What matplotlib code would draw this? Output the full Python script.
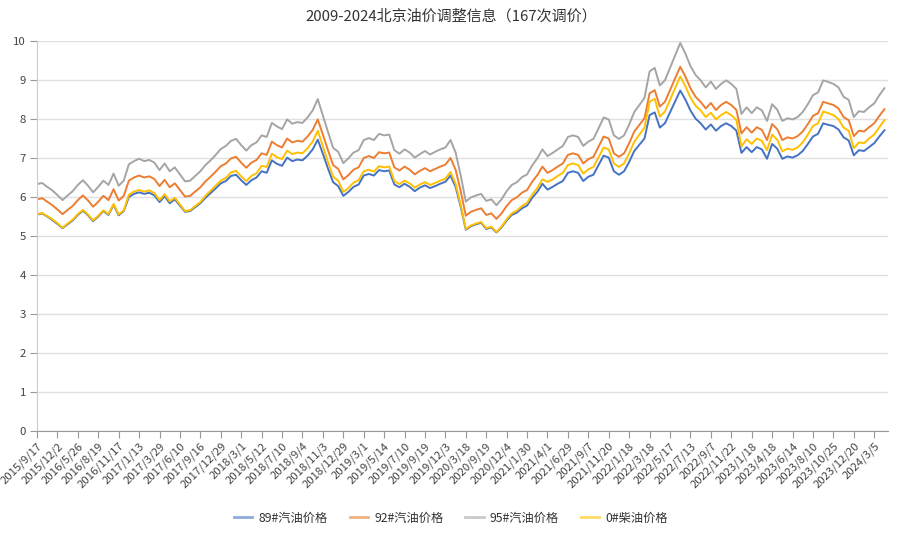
import numpy as np
import matplotlib
matplotlib.use('Agg')
import matplotlib.pyplot as plt
from matplotlib.lines import Line2D

plt.rcParams['font.family'] = ['Noto Sans CJK SC', 'DejaVu Sans']

# Подписи оси X (каждая 4-я дата из 167)
tick_labels = ['2015/9/17', '2015/12/2', '2016/5/26', '2016/8/19', '2016/11/17', '2017/1/13',
               '2017/3/29', '2017/6/10', '2017/9/16', '2017/12/29', '2018/3/1', '2018/5/12',
               '2018/7/10', '2018/9/4', '2018/11/3', '2018/12/29', '2019/3/1', '2019/5/14',
               '2019/7/10', '2019/9/19', '2019/12/3', '2020/3/18', '2020/9/19', '2020/12/4',
               '2021/1/30', '2021/4/1', '2021/6/29', '2021/9/7', '2021/11/20', '2022/1/18',
               '2022/3/18', '2022/5/17', '2022/7/13', '2022/9/7', '2022/11/22', '2023/1/18',
               '2023/4/18', '2023/6/14', '2023/8/10', '2023/10/25', '2023/12/20', '2024/3/5']

# 89# бензин
p89 = [5.55, 5.58, 5.50, 5.41, 5.31, 5.20, 5.30, 5.40, 5.54, 5.65,
       5.53, 5.38, 5.50, 5.64, 5.54, 5.80, 5.53, 5.64, 6.00, 6.08,
       6.12, 6.08, 6.11, 6.04, 5.87, 6.02, 5.84, 5.94, 5.78, 5.62,
       5.64, 5.74, 5.84, 5.98, 6.10, 6.22, 6.35, 6.41, 6.54, 6.57,
       6.43, 6.31, 6.43, 6.50, 6.66, 6.62, 6.94, 6.85, 6.80, 7.01,
       6.92, 6.96, 6.94, 7.06, 7.22, 7.47, 7.11, 6.73, 6.38, 6.28,
       6.03, 6.13, 6.26, 6.32, 6.55, 6.59, 6.55, 6.69, 6.66, 6.68,
       6.32, 6.25, 6.34, 6.26, 6.15, 6.24, 6.30, 6.23, 6.28, 6.34,
       6.39, 6.55, 6.26, 5.75, 5.16, 5.25, 5.30, 5.34, 5.18, 5.22,
       5.09, 5.22, 5.40, 5.54, 5.60, 5.71, 5.78, 5.98, 6.13, 6.34,
       6.19, 6.26, 6.34, 6.41, 6.62, 6.66, 6.62, 6.41, 6.52, 6.57,
       6.82, 7.06, 7.01, 6.66, 6.57, 6.66, 6.90, 7.18, 7.34, 7.50,
       8.10, 8.17, 7.78, 7.89, 8.17, 8.45, 8.73, 8.50, 8.22, 8.01,
       7.89, 7.73, 7.86, 7.70, 7.82, 7.89, 7.82, 7.70, 7.13, 7.28,
       7.15, 7.28, 7.22, 6.98, 7.36, 7.24, 6.98, 7.04, 7.01, 7.07,
       7.18, 7.36, 7.55, 7.62, 7.89, 7.85, 7.82, 7.73, 7.53, 7.45,
       7.07, 7.20, 7.18, 7.28, 7.38, 7.55, 7.71]

# 92# бензин
p92 = [5.94, 5.97, 5.88, 5.79, 5.68, 5.56, 5.67, 5.77, 5.92, 6.04,
       5.91, 5.75, 5.88, 6.03, 5.92, 6.20, 5.91, 6.03, 6.42, 6.50,
       6.55, 6.50, 6.53, 6.46, 6.28, 6.44, 6.25, 6.35, 6.18, 6.01,
       6.03, 6.14, 6.25, 6.40, 6.52, 6.65, 6.79, 6.86, 6.99, 7.03,
       6.88, 6.75, 6.88, 6.95, 7.12, 7.08, 7.42, 7.33, 7.27, 7.50,
       7.40, 7.44, 7.42, 7.55, 7.72, 7.99, 7.60, 7.20, 6.82, 6.72,
       6.45, 6.56, 6.70, 6.76, 7.00, 7.05, 7.00, 7.15, 7.12, 7.14,
       6.76, 6.68, 6.78, 6.70, 6.58, 6.67, 6.74, 6.66, 6.72, 6.78,
       6.83, 7.00, 6.70, 6.15, 5.52, 5.62, 5.67, 5.71, 5.54, 5.58,
       5.44, 5.58, 5.77, 5.92, 5.99, 6.11, 6.18, 6.39, 6.56, 6.78,
       6.62, 6.69, 6.78, 6.86, 7.08, 7.12, 7.08, 6.86, 6.97, 7.03,
       7.29, 7.55, 7.50, 7.12, 7.03, 7.12, 7.38, 7.68, 7.85, 8.02,
       8.66, 8.74, 8.32, 8.44, 8.74, 9.04, 9.34, 9.09, 8.79, 8.57,
       8.44, 8.27, 8.41, 8.23, 8.36, 8.44, 8.36, 8.23, 7.63, 7.79,
       7.65, 7.79, 7.72, 7.46, 7.87, 7.74, 7.46, 7.53, 7.50, 7.56,
       7.68, 7.87, 8.08, 8.15, 8.44, 8.40, 8.36, 8.27, 8.05, 7.97,
       7.56, 7.70, 7.68, 7.79, 7.89, 8.08, 8.25]

# 95# бензин
p95 = [6.33, 6.36, 6.26, 6.17, 6.05, 5.92, 6.04, 6.15, 6.31, 6.43,
       6.29, 6.12, 6.26, 6.42, 6.31, 6.60, 6.29, 6.42, 6.84, 6.92,
       6.98, 6.92, 6.95, 6.88, 6.69, 6.86, 6.66, 6.76, 6.58, 6.40,
       6.42, 6.54, 6.66, 6.82, 6.94, 7.08, 7.23, 7.31, 7.44, 7.49,
       7.33, 7.19, 7.33, 7.40, 7.58, 7.54, 7.90, 7.81, 7.74, 7.99,
       7.88, 7.92, 7.90, 8.04, 8.22, 8.51, 8.09, 7.67, 7.26, 7.16,
       6.87, 6.99, 7.14, 7.20, 7.46, 7.51, 7.46, 7.62, 7.58, 7.60,
       7.20, 7.11, 7.22, 7.14, 7.01, 7.10, 7.18, 7.09, 7.16, 7.22,
       7.27, 7.46, 7.14, 6.55, 5.88, 5.99, 6.04, 6.08, 5.90, 5.94,
       5.79, 5.94, 6.15, 6.31, 6.38, 6.51, 6.58, 6.81, 6.99, 7.22,
       7.05, 7.13, 7.22, 7.31, 7.54, 7.58, 7.54, 7.31, 7.42, 7.49,
       7.76, 8.04, 7.99, 7.58, 7.49, 7.58, 7.86, 8.18, 8.36, 8.54,
       9.22, 9.31, 8.86, 8.99, 9.31, 9.63, 9.95, 9.68, 9.36, 9.13,
       8.99, 8.81, 8.96, 8.77, 8.90, 8.99, 8.90, 8.77, 8.13, 8.30,
       8.15, 8.30, 8.22, 7.95, 8.38, 8.24, 7.95, 8.02, 7.99, 8.05,
       8.18, 8.38, 8.61, 8.68, 8.99, 8.95, 8.90, 8.81, 8.57, 8.49,
       8.05, 8.20, 8.18, 8.30, 8.40, 8.61, 8.79]

# 0# дизель
p0 = [5.56, 5.59, 5.51, 5.43, 5.33, 5.21, 5.32, 5.42, 5.56, 5.67,
      5.55, 5.40, 5.52, 5.66, 5.56, 5.82, 5.55, 5.66, 6.06, 6.14,
      6.18, 6.14, 6.17, 6.10, 5.92, 6.07, 5.89, 5.98, 5.81, 5.64,
      5.66, 5.77, 5.87, 6.03, 6.16, 6.29, 6.42, 6.49, 6.63, 6.67,
      6.53, 6.41, 6.54, 6.61, 6.80, 6.77, 7.11, 7.02, 6.97, 7.19,
      7.10, 7.14, 7.12, 7.25, 7.42, 7.70, 7.30, 6.90, 6.52, 6.42,
      6.13, 6.23, 6.37, 6.43, 6.66, 6.70, 6.65, 6.79, 6.76, 6.78,
      6.41, 6.33, 6.42, 6.35, 6.24, 6.32, 6.38, 6.31, 6.36, 6.42,
      6.47, 6.64, 6.34, 5.80, 5.18, 5.27, 5.32, 5.36, 5.20, 5.24,
      5.10, 5.24, 5.43, 5.58, 5.65, 5.77, 5.85, 6.06, 6.23, 6.45,
      6.39, 6.45, 6.54, 6.62, 6.82, 6.86, 6.82, 6.60, 6.71, 6.77,
      7.02, 7.27, 7.22, 6.86, 6.77, 6.86, 7.12, 7.42, 7.60, 7.78,
      8.44, 8.52, 8.06, 8.19, 8.49, 8.79, 9.09, 8.84, 8.55, 8.34,
      8.22, 8.05, 8.16, 7.99, 8.10, 8.18, 8.10, 7.97, 7.30, 7.48,
      7.36, 7.50, 7.44, 7.20, 7.60, 7.47, 7.17, 7.24, 7.21, 7.27,
      7.40, 7.60, 7.82, 7.89, 8.19, 8.15, 8.10, 8.00, 7.78, 7.70,
      7.25, 7.40, 7.38, 7.50, 7.60, 7.79, 7.97]

series_names = ['89#汽油价格', '92#汽油价格', '95#汽油价格', '0#柴油价格']
colors = ['#4472C4', '#ED7D31', '#A5A5A5', '#FFC000']

fig = plt.figure(figsize=(9.02, 5.33), dpi=100)
ax = fig.add_axes([37 / 902, 1 - 431 / 533, (888 - 37) / 902, 390 / 533])

x = np.arange(len(p92))
for vals, c in zip([p89, p92, p95, p0], colors):
    ax.plot(x, vals, color=c, lw=1.4, solid_joinstyle='round')

ax.set_xlim(0, len(p92) - 0.3)
ax.set_ylim(0, 10)
ax.set_yticks(range(0, 11))
ax.grid(axis='y', color='#e0e0e0', lw=1)
ax.set_axisbelow(True)

ax.set_xticks(np.arange(0, len(p92), 4))
ax.set_xticklabels(tick_labels, rotation=45, ha='right', rotation_mode='anchor')
ax.tick_params(axis='x', length=5, color='#999999', labelsize=8.2, labelcolor='#444444', pad=2)
ax.tick_params(axis='y', length=5, color='#999999', labelsize=8.2, labelcolor='#444444', pad=3)

for s in ['top', 'right']:
    ax.spines[s].set_visible(False)
ax.spines['left'].set_color('#cccccc')
ax.spines['bottom'].set_color('#999999')

fig.text(0.5, 1 - 16 / 533, '2009-2024北京油价调整信息（167次调价）',
         ha='center', va='center', fontsize=10.8, color='#333333')

handles = [Line2D([0], [0], color=c, lw=2, alpha=0.6) for c in colors]
fig.legend(handles, series_names, loc='center', bbox_to_anchor=(0.5, 1 - 518 / 533),
           ncol=4, frameon=False, fontsize=8.8, handlelength=1.5, columnspacing=1.8,
           handletextpad=0.5, labelcolor='#333333')

fig.savefig('out.png', dpi=100)
